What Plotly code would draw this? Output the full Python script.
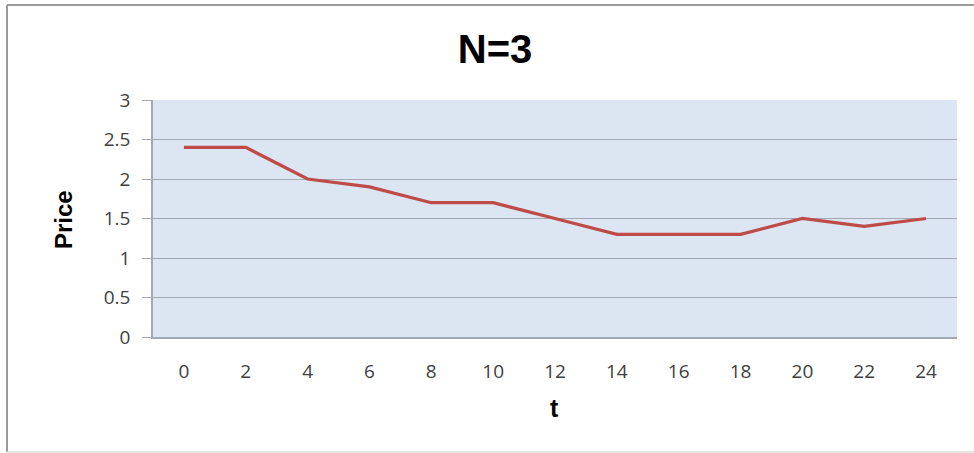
import plotly.graph_objects as go

# Price path for N=3
t_values = [0, 2, 4, 6, 8, 10, 12, 14, 16, 18, 20, 22, 24]
price = [2.4, 2.4, 2.0, 1.9, 1.7, 1.7, 1.5, 1.3, 1.3, 1.3, 1.5, 1.4, 1.5]
y_ticks = [0, 0.5, 1, 1.5, 2, 2.5, 3]
y_tick_text = ["0", "0.5", "1", "1.5", "2", "2.5", "3"]

W, H = 974, 453
L, R, T, B = 153, 17, 100, 116

GRID = "#a3a9b2"
TICK_FONT = dict(family="Open Sans", size=19, color="#404040")


def px_x(px):
    """Container pixel column -> plot-area paper fraction."""
    return (px - L) / (W - L - R)


def px_y(py):
    """Container pixel row -> plot-area paper fraction."""
    return (H - B - py) / (H - T - B)


fig = go.Figure(
    go.Scatter(
        x=t_values,
        y=price,
        mode="lines",
        line=dict(color="#be4b48", width=3.2),
        showlegend=False,
        hoverinfo="x+y",
    )
)

fig.update_layout(
    width=W,
    height=H,
    margin=dict(l=L, r=R, t=T, b=B),
    paper_bgcolor="white",
    plot_bgcolor="#dce6f2",
    title=dict(
        text="<b>N=3</b>",
        font=dict(family="Liberation Sans", size=40, color="black"),
        x=495 / W,
        xref="container",
        xanchor="center",
        y=1 - 49 / H,
        yref="container",
        yanchor="middle",
    ),
    xaxis=dict(
        range=[-1, 25],
        tickvals=t_values,
        ticktext=[str(v) for v in t_values],
        showgrid=False,
        zeroline=False,
        showline=True,
        linecolor=GRID,
        linewidth=1.5,
        ticks="",
        ticklabelstandoff=16,
        tickfont=TICK_FONT,
        fixedrange=True,
    ),
    yaxis=dict(
        range=[0, 3],
        tickvals=y_ticks,
        ticktext=y_tick_text,
        showgrid=True,
        gridcolor=GRID,
        gridwidth=1.3,
        zeroline=False,
        showline=True,
        linecolor=GRID,
        linewidth=1.5,
        ticks="outside",
        ticklen=9,
        tickcolor=GRID,
        tickwidth=1.3,
        ticklabelstandoff=8,
        tickfont=TICK_FONT,
        fixedrange=True,
    ),
    annotations=[
        dict(
            text="<b>Price</b>",
            x=px_x(63), y=px_y(220),
            xref="paper", yref="paper",
            xanchor="center", yanchor="middle",
            showarrow=False, textangle=-90,
            font=dict(family="Liberation Sans", size=24, color="black"),
        ),
        dict(
            text="<b>t</b>",
            x=px_x(554), y=px_y(408),
            xref="paper", yref="paper",
            xanchor="center", yanchor="middle",
            showarrow=False,
            font=dict(family="Liberation Sans", size=25, color="black"),
        ),
    ],
    shapes=[
        # chart frame: top, left and a faint bottom edge
        dict(type="line", xref="paper", yref="paper",
             x0=px_x(7), x1=px_x(W + 5), y0=px_y(5), y1=px_y(5),
             line=dict(color="#9a9a9a", width=2)),
        dict(type="line", xref="paper", yref="paper",
             x0=px_x(7), x1=px_x(7), y0=px_y(5), y1=px_y(452),
             line=dict(color="#9a9a9a", width=2)),
        dict(type="line", xref="paper", yref="paper",
             x0=px_x(7), x1=px_x(W + 5), y0=px_y(452), y1=px_y(452),
             line=dict(color="#dcdcdc", width=1.5)),
    ],
)

fig.write_html("out.html", config=dict(displayModeBar=False))
